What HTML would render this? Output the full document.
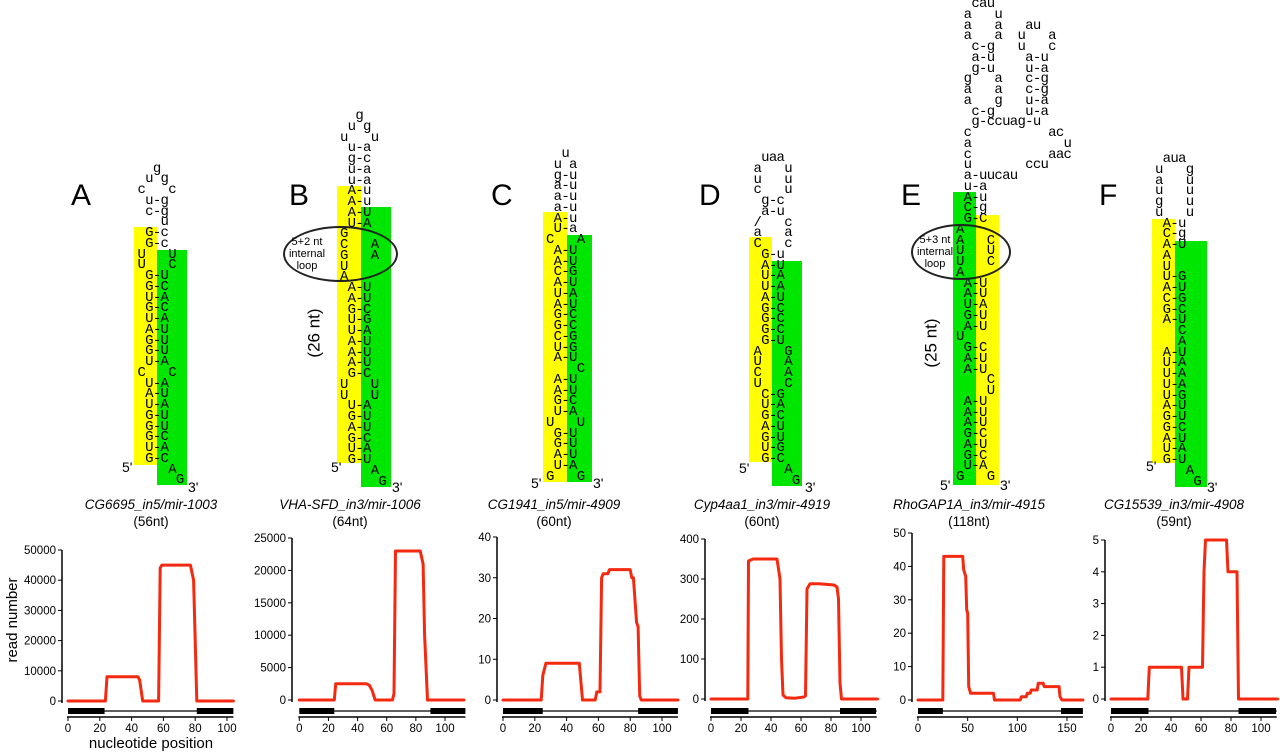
<!DOCTYPE html>
<html><head><meta charset="utf-8">
<style>
html,body{margin:0;padding:0;background:#fff;}
body{width:1280px;height:753px;position:relative;overflow:hidden;font-family:"Liberation Sans",sans-serif;}
.rect{position:absolute;}
.y{background:#ffff00;}
.g{background:#00e600;}
pre.s{position:absolute;margin:0;font-family:"Liberation Mono",monospace;font-size:14px;letter-spacing:-0.72px;line-height:10.75px;color:#000;}
.lab{position:absolute;font-size:30px;line-height:30px;color:#000;}
.end{position:absolute;font-size:14px;line-height:14px;}
.ell{position:absolute;border:2.5px solid #222;border-radius:50%;box-sizing:border-box;}
.elltxt{position:absolute;font-size:11px;line-height:12px;text-align:center;width:60px;}
.rot{position:absolute;font-size:17px;transform:rotate(-90deg);transform-origin:center;white-space:nowrap;}
.title{position:absolute;width:200px;text-align:center;font-size:13.5px;line-height:17px;}
svg{position:absolute;left:0;top:0;}
</style></head><body>

<div class="rect y" style="left:134px;top:227px;width:23px;height:238px"></div>
<div class="rect g" style="left:157px;top:250px;width:30px;height:235px"></div>
<div class="rect y" style="left:337px;top:186px;width:24px;height:277px"></div>
<div class="rect g" style="left:361px;top:207px;width:30px;height:280px"></div>
<div class="rect y" style="left:543px;top:212px;width:24px;height:270px"></div>
<div class="rect g" style="left:567px;top:235px;width:25px;height:247px"></div>
<div class="rect y" style="left:749px;top:237px;width:23px;height:225px"></div>
<div class="rect g" style="left:772px;top:261px;width:30px;height:225px"></div>
<div class="rect g" style="left:953px;top:192px;width:23px;height:293px"></div>
<div class="rect y" style="left:976px;top:215px;width:23px;height:270px"></div>
<div class="rect y" style="left:1152px;top:219px;width:23px;height:244px"></div>
<div class="rect g" style="left:1175px;top:241px;width:32px;height:246px"></div>

<pre class="s" style="left:137.5px;top:163.5px">  g
 u g
c   c
 u-g
 c-g
   u
 G-c
 G-c
U   U
U   C
 G-U
 G-C
 U-A
 G-C
 U-A
 A-U
 G-U
 G-U
 U-A
C   C
 U-A
 A-U
 U-A
 G-U
 G-U
 G-C
 U-A
 G-C
    A
     G</pre>

<pre class="s" style="left:340px;top:111px">  g
 u g
u   u
 u-a
 g-c
 u-a
 u-a
 A-u
 A-u
 A-U
 U-A
G
C   A
G   A
U
A
 A-U
 A-U
 G-C
 U-G
 U-A
 A-U
 A-U
 A-U
 G-C
U   U
U   U
 U-A
 G-U
 A-U
 G-C
 U-A
 G-U
    A
     G</pre>

<pre class="s" style="left:546px;top:149px">  u
 u a
 g-u
 a-u
 a-u
 a-u
 A-u
 U-a
C   A
 A-U
 A-U
 C-G
 A-U
 U-A
 A-U
 G-C
 G-C
 C-G
 U-G
 A-U
    C
 A-U
 A-U
 G-C
 U-A
U   U
 G-U
 G-U
 A-U
 U-A
G   G</pre>

<pre class="s" style="left:753.5px;top:153px"> uaa
a   u
u   u
c   u
 g-c
 a-u
/   c
a   a
C   c
 G-u
 A-U
 U-A
 U-A
 A-U
 G-C
 G-C
 G-C
 G-U
A   G
U   A
C   A
U   C
 C-G
 U-A
 G-C
 A-U
 G-U
 U-G
 G-C
    A
     G</pre>

<pre class="s" style="left:956px;top:-1px">  cau
 a   u
 a   a   au
 a   a  u   a
  c-g   u   c
  a-u    a-u
  g-u    u-a
 g   a   c-g
 a   a   c-g
 a   g   u-a
  c-g    u-a
  g-ccuag-u
 c          ac
 a            u
 c          aac
 u       ccu
 a-uucau
 u-a
 A-u
 C-g
 G-C
A
A   C
U   U
U   C
A
 A-U
 A-U
 U-A
 G-U
 A-U
U
 G-C
 A-U
 A-U
    C
    U
 A-U
 A-U
 A-U
 G-C
 A-U
 G-C
 U-A
G   G</pre>

<pre class="s" style="left:1155px;top:154px"> aua
u   g
a   u
u   u
g   u
u   u
 A-u
 C-g
 A-U
 A
 U
 U-G
 A-U
 C-G
 G-C
 A-U
   C
   A
 A-U
 U-A
 U-A
 U-A
 U-G
 A-U
 G-U
 G-C
 A-U
 U-A
 G-U
    A
     G</pre>

<div class="lab" style="left:71px;top:181px">A</div>
<div class="lab" style="left:289px;top:181px">B</div>
<div class="lab" style="left:491px;top:181px">C</div>
<div class="lab" style="left:699px;top:181px">D</div>
<div class="lab" style="left:901px;top:181px">E</div>
<div class="lab" style="left:1099px;top:181px">F</div>

<div class="end" style="left:122px;top:460px">5'</div>
<div class="end" style="left:188px;top:480px">3'</div>
<div class="end" style="left:331px;top:460px">5'</div>
<div class="end" style="left:392px;top:480px">3'</div>
<div class="end" style="left:531px;top:476px">5'</div>
<div class="end" style="left:593px;top:476px">3'</div>
<div class="end" style="left:739px;top:461px">5'</div>
<div class="end" style="left:805px;top:480px">3'</div>
<div class="end" style="left:940px;top:478px">5'</div>
<div class="end" style="left:1000px;top:478px">3'</div>
<div class="end" style="left:1146px;top:459px">5'</div>
<div class="end" style="left:1207px;top:480px">3'</div>

<div class="ell" style="left:283px;top:226px;width:115px;height:56px"></div>
<div class="elltxt" style="left:277px;top:236px">5+2 nt<br>internal<br>loop</div>
<div class="rot" style="left:290px;top:323px">(26 nt)</div>
<div class="ell" style="left:911px;top:224px;width:100px;height:56px"></div>
<div class="elltxt" style="left:905px;top:234px">5+3 nt<br>internal<br>loop</div>
<div class="rot" style="left:907px;top:333px">(25 nt)</div>

<div class="title" style="left:51px;top:496px"><i>CG6695_in5/mir-1003</i><br>(56nt)</div>
<div class="title" style="left:250px;top:496px"><i>VHA-SFD_in3/mir-1006</i><br>(64nt)</div>
<div class="title" style="left:454px;top:496px"><i>CG1941_in5/mir-4909</i><br>(60nt)</div>
<div class="title" style="left:662px;top:496px"><i>Cyp4aa1_in3/mir-4919</i><br>(60nt)</div>
<div class="title" style="left:869px;top:496px"><i>RhoGAP1A_in3/mir-4915</i><br>(118nt)</div>
<div class="title" style="left:1074px;top:496px"><i>CG15539_in3/mir-4908</i><br>(59nt)</div>

<svg id="charts" width="1280" height="753">
<text x="0" y="0" transform="translate(17,620) rotate(-90)" text-anchor="middle" font-size="15" font-family="Liberation Sans, sans-serif">read number</text>
<text x="151" y="748" text-anchor="middle" font-size="15" font-family="Liberation Sans, sans-serif">nucleotide position</text>
</svg>

<script>
const posA = [0, 23.5, 24.5, 44, 45, 47, 57, 58, 59, 77, 79, 81, 104];
const readsA = [0, 0, 8000, 8000, 7000, 0, 0, 44000, 45000, 45000, 40000, 0, 0];
const posB = [0, 24, 25, 46, 48, 50, 52, 64, 65, 66, 83, 85, 86, 88, 113];
const readsB = [0, 0, 2500, 2500, 2300, 1500, 0, 0, 1000, 23000, 23000, 21000, 10000, 0, 0];
const posC = [0, 24, 25, 27, 48, 50, 58, 59, 61, 62, 63, 66, 67, 80, 81, 82, 84, 85, 86, 87, 110];
const readsC = [0, 0, 6, 9, 9, 0, 0, 2, 2, 30, 31, 31, 32, 32, 30, 30, 19, 18, 1, 0, 0];
const posD = [0, 24.5, 25, 28, 44, 46, 47, 48, 50, 56, 62, 63, 64, 66, 72, 82, 84, 85, 86, 87, 111];
const readsD = [0, 0, 345, 350, 350, 300, 100, 10, 3, 2, 5, 8, 275, 288, 288, 285, 280, 250, 40, 0, 0];
const posE = [0, 25, 26, 45, 46, 48, 49, 50, 51, 53, 76, 77, 103, 104, 109, 110, 113, 114, 120, 121, 126, 127, 142, 143, 145, 166];
const readsE = [0, 0, 43, 43, 39, 37, 27, 26, 4, 2, 2, 0, 0, 1, 1, 2, 2, 3, 3, 5, 5, 4, 4, 1, 0, 0];
const posF = [0, 24.5, 25.5, 47, 48, 51, 52, 61, 62, 63, 77, 78, 84, 85, 111];
const readsF = [0, 0, 1, 1, 0, 0, 1, 1, 4, 5, 5, 4, 4, 0, 0];
const yTicksA = [0, 10000, 20000, 30000, 40000, 50000];
const yTicksB = [0, 5000, 10000, 15000, 20000, 25000];
const yTicksC = [0, 10, 20, 30, 40];
const yTicksD = [0, 100, 200, 300, 400];
const yTicksE = [0, 10, 20, 30, 40, 50];
const yTicksF = [0, 1, 2, 3, 4, 5];
const xTicksStd = [0, 20, 40, 60, 80, 100];
const xTicksE = [0, 50, 100, 150];
const exonsA = [[0, 23], [81, 104]];
const exonsB = [[0, 24], [90, 114]];
const exonsC = [[0, 25], [85, 110]];
const exonsD = [[0, 25], [86, 110]];
const exonsE = [[0, 25], [144, 166]];
const exonsF = [[0, 25], [85, 110]];

const NS = "http://www.w3.org/2000/svg";
const svg = document.getElementById("charts");
function mk(tag, attrs, parent) {
  const e = document.createElementNS(NS, tag);
  for (const k in attrs) e.setAttribute(k, attrs[k]);
  (parent || svg).appendChild(e);
  return e;
}
function drawChart(id, g, pos, reads, yTicks, xTicks, exons) {
  const grp = mk("g", {});
  
  
  const yMax = yTicks[yTicks.length - 1];
  const sx = v => g.x0 + (v / g.xRef) * (g.xRefPx - g.x0);
  const sy = v => g.y0 - (v / yMax) * (g.y0 - g.yTop);
  const ya = mk("line", {x1: g.ax, x2: g.ax, y1: sy(yMax), y2: g.y0 + 2, stroke: "#000", "stroke-width": 1.5}, grp);
  
  
  yTicks.forEach(t => {
    mk("line", {x1: g.ax - 4, x2: g.ax, y1: sy(t), y2: sy(t), stroke: "#000", "stroke-width": 1}, grp);
    const tx = mk("text", {x: g.ax - 6, y: sy(t) + 4, "text-anchor": "end", "font-size": 11.5, "font-family": "Liberation Sans, sans-serif"}, grp);
    tx.textContent = t;
    
    
  });
  const xEnd = g.xEnd;
  mk("line", {x1: sx(0), x2: sx(xEnd), y1: 711, y2: 711, stroke: "#000", "stroke-width": 1.3}, grp);
  exons.forEach(e => {
    const r = mk("rect", {x: sx(e[0]), y: 708, width: sx(e[1]) - sx(e[0]), height: 6, fill: "#000"}, grp);
    
    
  });
  const xa = mk("line", {x1: sx(0) - 1, x2: sx(xEnd), y1: 717, y2: 717, stroke: "#000", "stroke-width": 1.5}, grp);
  
  
  xTicks.forEach(t => {
    mk("line", {x1: sx(t), x2: sx(t), y1: 717, y2: 721, stroke: "#000", "stroke-width": 1}, grp);
    const tx = mk("text", {x: sx(t), y: 732, "text-anchor": "middle", "font-size": 11.5, "font-family": "Liberation Sans, sans-serif"}, grp);
    tx.textContent = t;
    
    
  });
  const pts = pos.map((p, i) => sx(p).toFixed(1) + "," + sy(reads[i]).toFixed(1)).join(" ");
  const pl = mk("polyline", {points: pts, fill: "none", stroke: "#f42a10", "stroke-width": 3, "stroke-linejoin": "round", "stroke-linecap": "round"}, grp);
  
  
}
drawChart("a", {ax: 62, x0: 68, xRef: 100, xRefPx: 227, y0: 701, yTop: 550, xEnd: 104}, posA, readsA, yTicksA, xTicksStd, exonsA);
drawChart("b", {ax: 292, x0: 299.3, xRef: 100, xRefPx: 445, y0: 700, yTop: 538, xEnd: 114}, posB, readsB, yTicksB, xTicksStd, exonsB);
drawChart("c", {ax: 497, x0: 503, xRef: 100, xRefPx: 662, y0: 700, yTop: 537, xEnd: 110}, posC, readsC, yTicksC, xTicksStd, exonsC);
drawChart("d", {ax: 705, x0: 711, xRef: 100, xRefPx: 861, y0: 699, yTop: 539, xEnd: 110.5}, posD, readsD, yTicksD, xTicksStd, exonsD);
drawChart("e", {ax: 912, x0: 918, xRef: 150, xRefPx: 1067, y0: 700, yTop: 533, xEnd: 166}, posE, readsE, yTicksE, xTicksE, exonsE);
drawChart("f", {ax: 1105, x0: 1111, xRef: 100, xRefPx: 1261, y0: 699, yTop: 540, xEnd: 110.5}, posF, readsF, yTicksF, xTicksStd, exonsF);
</script>
</body></html>
